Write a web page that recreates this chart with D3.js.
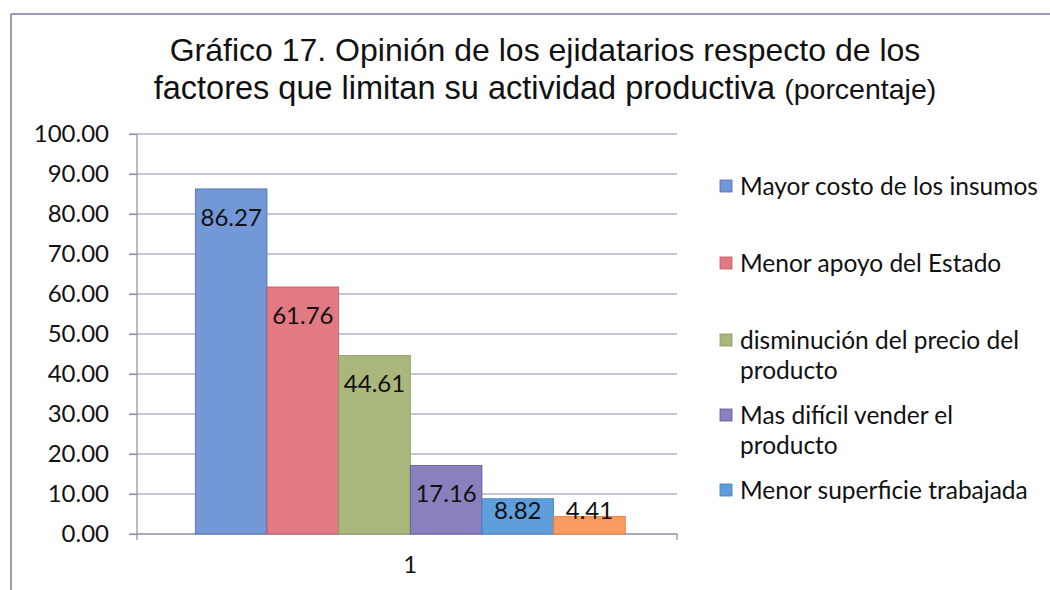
<!DOCTYPE html>
<html>
<head>
<meta charset="utf-8">
<script src="https://cdn.jsdelivr.net/npm/d3@7"></script>
<style>
  body { margin: 0; background: #fff; }
  svg { display: block; }
</style>
</head>
<body>
<svg id="chart" width="1050" height="590"></svg>
<script>
// data
const categories = ['1'];
const seriesNames = ['Mayor costo de los insumos', 'Menor apoyo del Estado',
  'disminución del precio del producto', 'Mas difícil vender el producto',
  'Menor superficie trabajada', 'Otro'];
const seriesValues = [86.27, 61.76, 44.61, 17.16, 8.82, 4.41];
const yTicks = [0, 10, 20, 30, 40, 50, 60, 70, 80, 90, 100];
// legend shows only the first five entries (the last is cut off)
const legendLines = [
  ['Mayor costo de los insumos'],
  ['Menor apoyo del Estado'],
  ['disminución del precio del', 'producto'],
  ['Mas difícil vender el', 'producto'],
  ['Menor superficie trabajada']
];

const colors = ['#7398d8', '#e27a83', '#a9b77c', '#8a80bd', '#5e9edb', '#f99a5e'];
const strokes = ['#4f6fb0', '#c25560', '#889658', '#5f5598', '#3f7fbf', '#e07a3a'];
const lineColor = '#8e8cab';
const labelFont = 'Lato, "Open Sans", sans-serif';

let svg = d3.select('#chart');

// outer frame (only top and left edges visible)
svg.append('line').attr('x1', 11).attr('x2', 1050).attr('y1', 14).attr('y2', 14)
  .attr('stroke', '#7c7b9e').attr('stroke-width', 1.5);
svg.append('line').attr('x1', 11).attr('x2', 11).attr('y1', 14).attr('y2', 590)
  .attr('stroke', '#7c7b9e').attr('stroke-width', 1.5);

// title
let title = svg.append('text')
  .attr('text-anchor', 'middle')
  .attr('font-family', '"Liberation Sans", Arial, sans-serif')
  .attr('fill', '#111');
title.append('tspan').attr('x', 545).attr('y', 61).attr('font-size', 32)
  .text('Gráfico 17. Opinión de los ejidatarios respecto de los');
let l2 = title.append('tspan').attr('x', 545).attr('y', 99).attr('font-size', 32.5)
  .text('factores que limitan su actividad productiva ');
l2.append('tspan').attr('font-size', 28.5).text('(porcentaje)');

// plot area
let plotLeft = 137, plotRight = 677, plotTop = 134, plotBottom = 534;

let y = d3.scaleLinear().domain([0, 100]).range([plotBottom, plotTop]);
let x0 = d3.scaleBand().domain(categories).range([plotLeft, plotRight])
  .paddingOuter(0.128).align(0.53);
let x1 = d3.scaleBand().domain(seriesNames).range([0, x0.bandwidth()]);

// gridlines
svg.append('g').selectAll('line')
  .data(yTicks)
  .enter().append('line')
  .attr('x1', plotLeft - 8).attr('x2', plotRight)
  .attr('y1', d => y(d)).attr('y2', d => y(d))
  .attr('stroke', lineColor).attr('stroke-width', 1.2);

// y axis
let yAxis = svg.append('g')
  .attr('transform', 'translate(' + plotLeft + ',0)')
  .call(d3.axisLeft(y).tickValues(yTicks).tickSize(8).tickFormat(d3.format('.2f')));
yAxis.selectAll('path, line').attr('stroke', lineColor).attr('stroke-width', 1.2);
yAxis.select('.domain').attr('d', 'M0,' + plotTop + 'V' + (plotBottom + 6));
yAxis.selectAll('text')
  .attr('x', -28)
  .attr('font-family', labelFont).attr('font-size', 24).attr('fill', '#111');

// x axis
let xAxis = svg.append('g')
  .attr('transform', 'translate(0,' + plotBottom + ')')
  .call(d3.axisBottom(x0).tickSize(0).tickPadding(22));
xAxis.select('.domain').attr('d', 'M' + plotLeft + ',0H' + plotRight + 'V6')
  .attr('stroke', lineColor).attr('stroke-width', 1.2);
xAxis.selectAll('text')
  .attr('font-family', labelFont).attr('font-size', 24).attr('fill', '#111');

// bars
let group = svg.append('g').selectAll('g')
  .data(categories)
  .enter().append('g')
  .attr('transform', d => 'translate(' + x0(d) + ',0)');

group.selectAll('rect')
  .data(seriesNames.map((s, i) => ({name: s, value: seriesValues[i], i: i})))
  .enter().append('rect')
  .attr('x', d => x1(d.name))
  .attr('y', d => y(d.value))
  .attr('width', x1.bandwidth())
  .attr('height', d => plotBottom - y(d.value))
  .attr('fill', d => colors[d.i])
  .attr('stroke', d => strokes[d.i])
  .attr('stroke-width', 0.8);

// data labels, inside end, kept above the axis
group.selectAll('.lbl')
  .data(seriesNames.map((s, i) => ({name: s, value: seriesValues[i]})))
  .enter().append('text')
  .attr('class', 'lbl')
  .attr('x', d => x1(d.name) + x1.bandwidth() / 2)
  .attr('y', d => Math.min(y(d.value) + 28, plotBottom - 24))
  .attr('dy', '0.36em')
  .attr('text-anchor', 'middle')
  .attr('font-family', labelFont).attr('font-size', 24).attr('fill', '#111')
  .text(d => d.value.toFixed(2));

// legend
let legendY = [186, 263, 340, 415, 490];
let lg = svg.append('g').selectAll('g')
  .data(legendLines)
  .enter().append('g')
  .attr('transform', (d, i) => 'translate(720,' + legendY[i] + ')');

lg.append('rect')
  .attr('x', 0).attr('y', -6).attr('width', 12).attr('height', 12)
  .attr('fill', (d, i) => colors[i])
  .attr('stroke', (d, i) => strokes[i]).attr('stroke-width', 0.8);

lg.append('text')
  .attr('font-family', labelFont).attr('font-size', 24.5).attr('fill', '#111')
  .selectAll('tspan')
  .data(d => d)
  .enter().append('tspan')
  .attr('x', 20)
  .attr('y', (d, i) => i * 30)
  .attr('dy', '0.36em')
  .text(d => d);
</script>
</body>
</html>
